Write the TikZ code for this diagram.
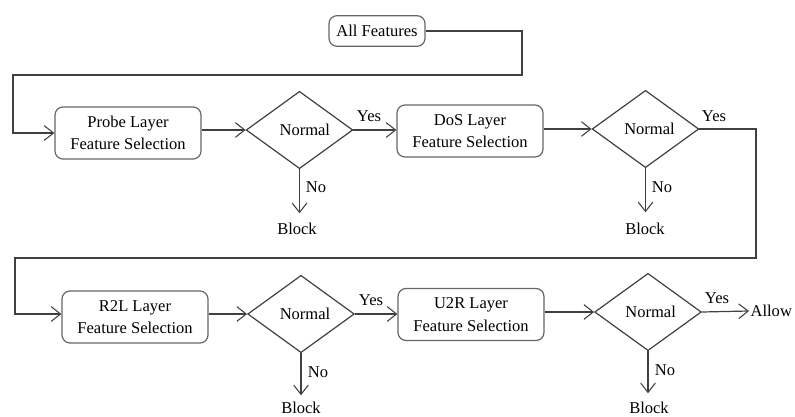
\documentclass[tikz,border=0pt]{standalone}
\usepackage{fontspec}
\setmainfont{Liberation Serif}[Scale=1.0]
\usetikzlibrary{shapes.geometric,arrows.meta}
\begin{document}
\begin{tikzpicture}[x=0.75pt,y=-0.75pt,
  line/.style={draw=black!75, line width=0.9pt},
  arr/.style={line, -{Straight Barb[length=7pt,width=11pt,line width=0.8pt]}},
  txt/.style={font=\rmfamily\fontsize{12.4}{17}\selectfont},
  proc/.style={txt, draw=black!60, line width=0.9pt, rounded corners=6pt, minimum width=109.5pt, minimum height=39pt, align=center, inner sep=2pt},
  dec/.style={txt, diamond, draw=black!75, line width=0.9pt, minimum width=80pt, minimum height=58pt, inner sep=0pt},
  lbl/.style={txt, inner sep=1pt},
  startbox/.style={txt, draw=black!60, line width=0.9pt, rounded corners=6pt, minimum width=72pt, minimum height=23pt, inner sep=2pt}]
\useasboundingbox (0,0) rectangle (795,417);

\node[startbox] (all) at (377,31) {All Features};

\node[proc] (probe) at (128,133) {Probe Layer\\Feature Selection};
\node[dec] (d1) at (299.5,130) {\hspace*{8pt}Normal};
\node[proc] (dos) at (470,131) {DoS Layer\\Feature Selection};
\node[dec] (d2) at (645.5,129) {\hspace*{6pt}Normal};

\node[proc] (r2l) at (135,317) {R2L Layer\\Feature Selection};
\node[dec] (d3) at (301,314) {\hspace*{6pt}Normal};
\node[proc] (u2r) at (471,314.5) {U2R Layer\\Feature Selection};
\node[dec] (d4) at (648,312) {\hspace*{4pt}Normal};

\node[lbl] (b1) at (297,229) {Block};
\node[lbl] (b2) at (645,229) {Block};
\node[lbl] (b3) at (301,408) {Block};
\node[lbl] (b4) at (649,408) {Block};
\node[lbl, anchor=west] (allow) at (749,311) {Allow};

% labels
\node[lbl] (y1) at (369,116) {Yes};
\node[lbl] (y2) at (714,116) {Yes};
\node[lbl] (y3) at (371,300) {Yes};
\node[lbl] (y4) at (717,298) {Yes};
\node[lbl] (n1) at (316,187) {No};
\node[lbl] (n2) at (662,187) {No};
\node[lbl] (n3) at (318,372) {No};
\node[lbl] (n4) at (665,370) {No};

\coordinate (c1) at (522,75);
\coordinate (c2) at (13,75);
\coordinate (c3) at (756,258);
\coordinate (c4) at (15,258);

% connectors
\draw[arr] (all.east) -| (c1) -- (c2) |- (probe.west);
\draw[arr] (probe.east |- d1.west) -- (d1.west);
\draw[arr] (d1.east) -- (dos.west |- d1.east);
\draw[arr] (dos.east |- d2.west) -- (d2.west);
\draw[arr] (d2.east) -| (c3) -- (c4) |- (r2l.west |- d3.west);
\draw[arr] (r2l.east |- d3.west) -- (d3.west);
\draw[arr] (d3.east) -- (u2r.west |- d3.east);
\draw[arr] (u2r.east |- d4.west) -- (d4.west);
\draw[arr] (d4.east) -- (allow.west);

\draw[arr] (d1.south) -- ++(0,44) coordinate (e1);
\draw[arr] (d2.south) -- ++(0,44) coordinate (e2);
\draw[arr] (d3.south) -- ++(0,42) coordinate (e3);
\draw[arr] (d4.south) -- ++(0,42) coordinate (e4);
\end{tikzpicture}
\end{document}
